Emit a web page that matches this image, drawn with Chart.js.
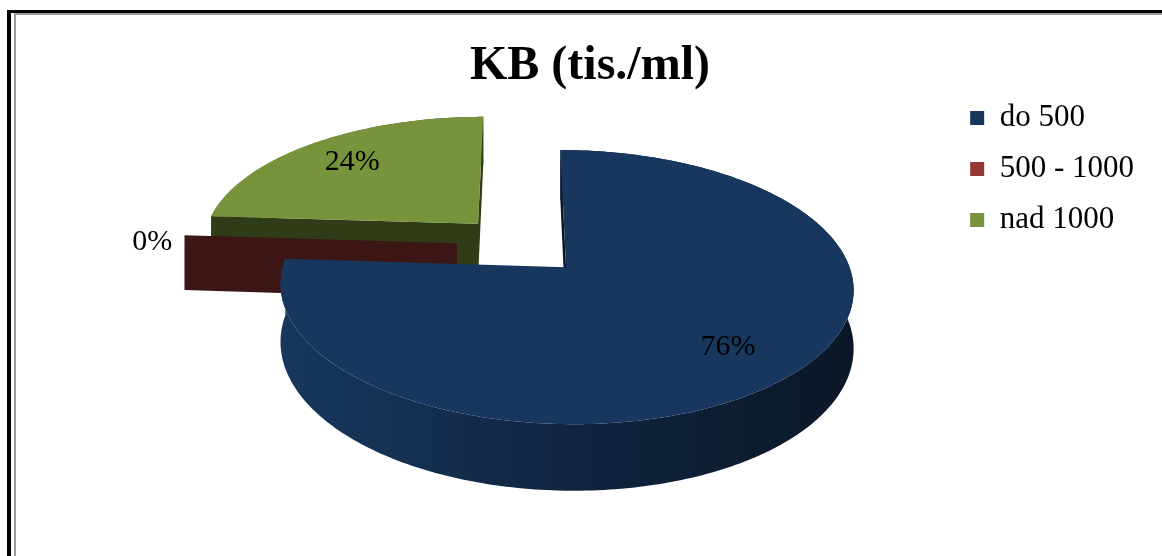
<!DOCTYPE html>
<html>
<head>
<meta charset="utf-8">
<script src="https://cdn.jsdelivr.net/npm/chart.js@4.4.1/dist/chart.umd.min.js"></script>
<style>
  html, body { margin: 0; padding: 0; background: #ffffff; }
  canvas { display: block; }
</style>
</head>
<body>
<canvas id="chart" width="1162" height="556"></canvas>
<script>
// Categories and their shares (percent)
const categories = ['do 500', '500 - 1000', 'nad 1000'];
const shares = [76, 0, 24];
const sliceColors = ['#17375e', '#953735', '#77933c'];

const serif = '"Times New Roman", "Liberation Serif", serif';

// Perspective view of the tilted, exploded 3D pie
const view = {
  cx: 521, cy: 245,     // projected pie centre
  radius: 284,          // pie radius in plane units
  explode: 66,          // explosion distance of every slice
  tilt: 0.45,           // vertical foreshortening of the pie plane
  squeezeX: 0.974,      // horizontal scale
  distance: 2000,       // eye distance for the perspective division
  thickness: 55.5       // slab height at the centre line
};

function project(u, w, h) {
  const s = view.distance / (view.distance - w);
  return [view.cx + view.squeezeX * u * s, view.cy + (view.tilt * w + h) * s];
}

function shade(hex, f) {
  const n = parseInt(hex.slice(1), 16);
  const r = Math.round(((n >> 16) & 255) * f);
  const g = Math.round(((n >> 8) & 255) * f);
  const b = Math.round((n & 255) * f);
  return 'rgb(' + r + ',' + g + ',' + b + ')';
}

function polyArea(pts) {
  let a = 0;
  for (let i = 0; i < pts.length; i++) {
    const p = pts[i], q = pts[(i + 1) % pts.length];
    a += p[0] * q[1] - q[0] * p[1];
  }
  return a / 2;
}

function fillPoly(ctx, pts, style) {
  ctx.beginPath();
  ctx.moveTo(pts[0][0], pts[0][1]);
  for (let i = 1; i < pts.length; i++) ctx.lineTo(pts[i][0], pts[i][1]);
  ctx.closePath();
  ctx.fillStyle = style;
  ctx.fill();
}

// Slice geometry taken from the pie's arc elements
function sliceGeometry(chart) {
  const meta = chart.getDatasetMeta(0);
  const colors = chart.data.datasets[0].backgroundColor;
  return meta.data.map((arc, i) => {
    const p = arc.getProps(['startAngle', 'endAngle'], true);
    const mid = (p.startAngle + p.endAngle) / 2;
    return {
      index: i,
      start: p.startAngle,
      end: p.endAngle,
      mid: mid,
      ax: view.explode * Math.cos(mid),
      aw: view.explode * Math.sin(mid),
      color: colors[i]
    };
  });
}

function rimPoint(s, phi, h) {
  return project(s.ax + view.radius * Math.cos(phi), s.aw + view.radius * Math.sin(phi), h);
}

function arcPoints(s, h, reverse) {
  const pts = [];
  const span = s.end - s.start;
  const steps = Math.max(1, Math.ceil(span / (Math.PI / 180)));
  for (let k = 0; k <= steps; k++) {
    const t = reverse ? 1 - k / steps : k / steps;
    pts.push(rimPoint(s, s.start + span * t, h));
  }
  return pts;
}

function drawSlice(ctx, s) {
  const H = view.thickness;
  const apexTop = project(s.ax, s.aw, 0);
  const apexBottom = project(s.ax, s.aw, H);

  // curved outer wall
  if (s.end > s.start) {
    const wall = arcPoints(s, 0, false).concat(arcPoints(s, H, true));
    let minX = Infinity, maxX = -Infinity;
    wall.forEach(p => { minX = Math.min(minX, p[0]); maxX = Math.max(maxX, p[0]); });
    const g = ctx.createLinearGradient(minX, 0, maxX, 0);
    g.addColorStop(0, shade(s.color, 1.0));
    g.addColorStop(0.5, shade(s.color, 0.68));
    g.addColorStop(1, shade(s.color, 0.42));
    fillPoly(ctx, wall, g);
  }

  // radial cut faces, only those turned towards the viewer
  [[s.start, true], [s.end, false]].forEach(([phi, isStart]) => {
    const quad = [apexTop, rimPoint(s, phi, 0), rimPoint(s, phi, H), apexBottom];
    const a = polyArea(quad);
    if ((isStart && a < 0) || (!isStart && a > 0)) {
      fillPoly(ctx, quad, shade(s.color, 0.4));
    }
  });

  // top face
  if (s.end > s.start) {
    fillPoly(ctx, [apexTop].concat(arcPoints(s, 0, false)), s.color);
  }
}

const pie3d = {
  id: 'pie3d',
  beforeDatasetsDraw(chart) {
    const ctx = chart.ctx;
    const slices = sliceGeometry(chart).sort((a, b) => a.aw - b.aw);
    ctx.save();
    slices.forEach(s => drawSlice(ctx, s));
    ctx.restore();
    return false;
  },
  afterDraw(chart) {
    const ctx = chart.ctx;
    const values = chart.data.datasets[0].data;
    ctx.save();
    ctx.fillStyle = '#000';
    ctx.font = '30px ' + serif;
    ctx.textAlign = 'center';
    ctx.textBaseline = 'middle';
    sliceGeometry(chart).forEach(s => {
      const v = values[s.index];
      const inside = v > 0;
      const rho = inside ? view.radius * 0.75 : view.radius + 34;
      const h = inside ? 0 : view.thickness * 0.15;
      const p = project(s.ax + rho * Math.cos(s.mid), s.aw + rho * Math.sin(s.mid), h);
      ctx.fillText(v + '%', p[0], p[1]);
    });
    ctx.restore();
  }
};

// Outer frame of the chart sheet
const frame = {
  id: 'frame',
  beforeDraw(chart) {
    const ctx = chart.ctx;
    const W = chart.width, Hh = chart.height;
    ctx.save();
    ctx.fillStyle = '#ffffff';
    ctx.fillRect(0, 0, W, Hh);
    ctx.fillStyle = '#000000';
    ctx.fillRect(7, 10, W - 7, 3);
    ctx.fillRect(7, 10, 4, Hh - 10);
    ctx.fillStyle = '#9a9a9a';
    ctx.fillRect(14, 13, W - 14, 2);
    ctx.fillRect(14, 13, 2, Hh - 13);
    ctx.restore();
  }
};

new Chart(document.getElementById('chart'), {
  type: 'pie',
  data: {
    labels: categories,
    datasets: [{
      data: shares,
      backgroundColor: sliceColors,
      borderWidth: 0
    }]
  },
  options: {
    responsive: false,
    animation: false,
    layout: { padding: { left: 36, right: 18 } },
    plugins: {
      title: {
        display: true,
        text: 'KB (tis./ml)',
        color: '#000',
        font: { family: serif, size: 48, weight: 'bold', lineHeight: 1.0 },
        padding: { top: 43, bottom: 0 }
      },
      legend: {
        position: 'right',
        align: 'start',
        title: {
          display: true,
          text: ' ',
          font: { size: 1, lineHeight: 1 },
          padding: { top: 0, bottom: 81.5 }
        },
        labels: {
          color: '#000',
          font: { family: serif, size: 31 },
          boxWidth: 14,
          boxHeight: 14,
          padding: 20
        }
      },
      tooltip: { enabled: false }
    }
  },
  plugins: [frame, pie3d]
});
</script>
</body>
</html>
